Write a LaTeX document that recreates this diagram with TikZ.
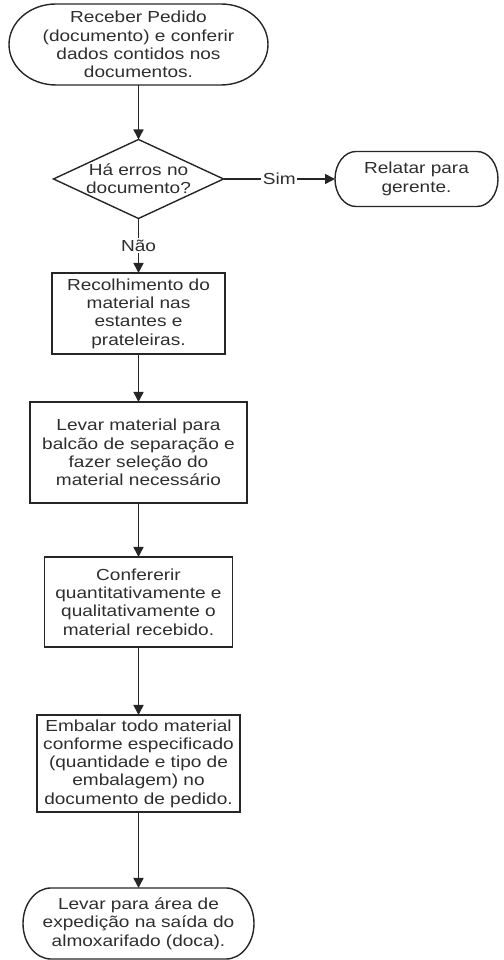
\documentclass[tikz,border=0pt]{standalone}
\usepackage{fontspec}
\setmainfont[FakeStretch=1.19]{Liberation Sans}
\usetikzlibrary{arrows.meta}
\newcommand\termoutline[3]{\draw[shapeline] ([xshift=#2]#1.north west) -- ([xshift=-#2]#1.north east) arc[start angle=90,end angle=-90,x radius=#2,y radius=#3] -- ([xshift=#2]#1.south west) arc[start angle=270,end angle=90,x radius=#2,y radius=#3] -- cycle;}
\begin{document}
\begin{tikzpicture}[x=1pt,y=1pt,
  txt/.style={font=\fontsize{16}{18.3}\selectfont, text=black!82, align=center, inner sep=0pt, outer sep=0pt},
  shapeline/.style={draw=black!85, line width=1.4pt},
  term/.style={txt},
  proc/.style={txt, shapeline},
  conn/.style={draw=black!85, line width=1.6pt, -{Triangle[length=10pt,width=10pt]}},
  lab/.style={font=\fontsize{16}{18.3}\selectfont, text=black!82, fill=white, inner sep=1.5pt}]
\useasboundingbox (0,0) rectangle (503,960);
\clip (0,0) rectangle (503,960);
\node[term, minimum width=259, minimum height=81] (start) at (138.5,915.5) {Receber Pedido\\(documento) e conferir\\dados contidos nos\\documentos.};
\termoutline{start}{47}{40.5}
\node[txt, minimum width=170, minimum height=79] (dia) at (138.5,781) {Há erros no\\documento?};
\draw[shapeline] (dia.north) -- (dia.east) -- (dia.south) -- (dia.west) -- cycle;
\node[term, minimum width=163, minimum height=55] (rel) at (416.5,781) {Relatar para\\gerente.};
\termoutline{rel}{21}{27.5}
\node[proc, minimum width=173, minimum height=81] (b1) at (138.5,646.5) {Recolhimento do\\material nas\\estantes e\\prateleiras.};
\node[proc, minimum width=217, minimum height=101] (b2) at (138.5,507.5) {Levar material para\\balcão de separação e\\fazer seleção do\\material necessário};
\node[proc, minimum width=188, minimum height=90] (b3) at (138.5,358) {Confererir\\quantitativamente e\\qualitativamente o\\material recebido.};
\node[proc, minimum width=203, minimum height=97] (b4) at (138.5,196.5) {Embalar todo material\\conforme especificado\\(quantidade e tipo de\\embalagem) no\\documento de pedido.};
\node[term, minimum width=231, minimum height=71] (fim) at (138.5,36.5) {Levar para área de\\expedição na saída do\\almoxarifado (doca).};
\termoutline{fim}{28}{35.5}
\draw[conn] (start.south) -- (dia.north);
\draw[conn] (dia.east) -- node[lab]{Sim} (rel.west);
\draw[conn] (dia.south) -- node[lab]{Não} (b1.north);
\draw[conn] (b1.south) -- (b2.north);
\draw[conn] (b2.south) -- (b3.north);
\draw[conn] (b3.south) -- (b4.north);
\draw[conn] (b4.south) -- (fim.north);
\end{tikzpicture}
\end{document}
